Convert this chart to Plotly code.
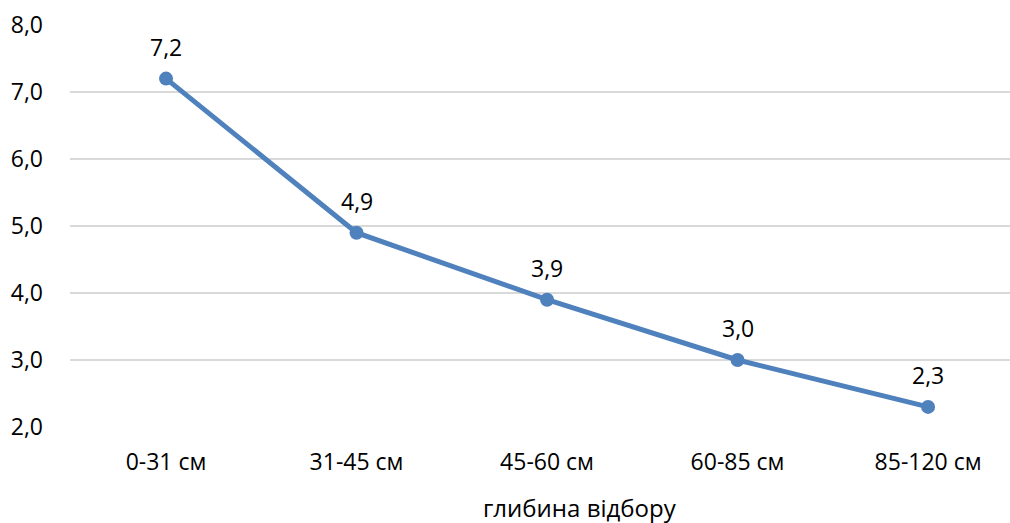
import plotly.graph_objects as go

categories = ["0-31 см", "31-45 см", "45-60 см", "60-85 см", "85-120 см"]
values = [7.2, 4.9, 3.9, 3.0, 2.3]
value_labels = ["7,2", "4,9", "3,9", "3,0", "2,3"]
y_ticks = [2, 3, 4, 5, 6, 7, 8]
y_tick_labels = ["2,0", "3,0", "4,0", "5,0", "6,0", "7,0", "8,0"]
x_title = "глибина відбору"

FONT = "Open Sans"
COLOR = "#4f81bd"

fig = go.Figure()
fig.add_trace(go.Scatter(
    x=list(range(len(categories))),
    y=values,
    mode="lines+markers",
    line=dict(color=COLOR, width=5),
    marker=dict(color=COLOR, size=14),
    hoverinfo="skip",
    showlegend=False,
))

for i, (v, lab) in enumerate(zip(values, value_labels)):
    fig.add_annotation(x=i, y=v, text=lab, showarrow=False, yshift=32,
                       font=dict(family=FONT, size=23, color="#000000"))

fig.add_annotation(xref="paper", yref="paper", x=0.5426, y=-0.2,
                   xanchor="center", yanchor="middle", text=x_title,
                   showarrow=False,
                   font=dict(family=FONT, size=24, color="#000000"))

fig.update_layout(
    width=1010, height=523,
    margin=dict(l=70, r=0, t=25, b=96),
    paper_bgcolor="white", plot_bgcolor="white",
    font=dict(family=FONT, size=23, color="#000000"),
    xaxis=dict(
        range=[-0.504, 4.43],
        tickmode="array",
        tickvals=list(range(len(categories))),
        ticktext=categories,
        showgrid=False, zeroline=False, showline=False,
        ticks="", ticklabelstandoff=19,
        tickfont=dict(family=FONT, size=23, color="#000000"),
    ),
    yaxis=dict(
        range=[2, 8],
        tickmode="array",
        tickvals=y_ticks,
        ticktext=y_tick_labels,
        showgrid=True, gridcolor="#d9d9d9", gridwidth=1.5,
        zeroline=False, showline=False,
        ticks="", ticklabelstandoff=26,
        tickfont=dict(family=FONT, size=23, color="#000000"),
    ),
)

fig.write_html("out.html")
